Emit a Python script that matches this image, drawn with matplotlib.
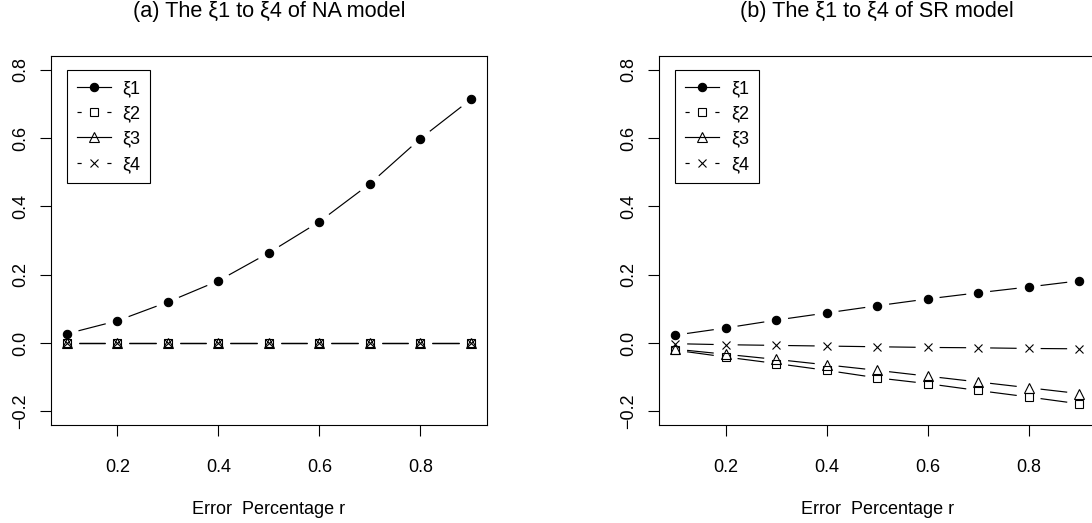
import numpy as np
import matplotlib
matplotlib.use("Agg")
import matplotlib.pyplot as plt
from matplotlib.lines import Line2D

plt.rcParams['font.family'] = ['Liberation Sans', 'DejaVu Sans']
plt.rcParams['lines.scale_dashes'] = False

# error percentage r
r = [0.1, 0.2, 0.3, 0.4, 0.5, 0.6, 0.7, 0.8, 0.9]

# (a) NA model
na_xi1 = [0.027, 0.065, 0.120, 0.182, 0.264, 0.355, 0.466, 0.598, 0.713]
na_xi2 = [0.0, 0.0, 0.0, 0.0, 0.0, 0.0, 0.0, 0.0, 0.0]
na_xi3 = [0.0, 0.0, 0.0, 0.0, 0.0, 0.0, 0.0, 0.0, 0.0]
na_xi4 = [0.0, 0.0, 0.0, 0.0, 0.0, 0.0, 0.0, 0.0, 0.0]

# (b) SR model
sr_xi1 = [0.023, 0.044, 0.067, 0.088, 0.109, 0.129, 0.147, 0.164, 0.182]
sr_xi2 = [-0.021, -0.041, -0.060, -0.080, -0.102, -0.119, -0.139, -0.158, -0.178]
sr_xi3 = [-0.018, -0.033, -0.048, -0.064, -0.080, -0.097, -0.114, -0.131, -0.148]
sr_xi4 = [-0.002, -0.005, -0.007, -0.009, -0.011, -0.013, -0.014, -0.016, -0.017]

labels = ['ξ1', 'ξ2', 'ξ3', 'ξ4']
titles = ['(a) The ξ1 to ξ4 of NA model', '(b) The ξ1 to ξ4 of SR model']

# marker styles like R pch 16, 0, 2, 4
styles = [
    dict(marker='o', ms=6, mfc='black', mec='black', mew=0.8),
    dict(marker='s', ms=6, mfc='none', mec='black', mew=0.8),
    dict(marker='^', ms=7, mfc='none', mec='black', mew=0.8),
    dict(marker='x', ms=6, mfc='none', mec='black', mew=0.8),
]
dashed = [False, True, False, True]

FS = 13
GAP = 12  # pixels of gap around each point (R type = "b")

fig = plt.figure(figsize=(10.92, 5.23), dpi=100)
W, H = 1092, 523
ax_w = 436.3 / W
ax_h = (425 - 56) / H
ax_b = 1 - 425 / H
axes = [fig.add_axes([50.7 / W, ax_b, ax_w, ax_h]),
        fig.add_axes([659 / W, ax_b, ax_w, ax_h])]


def type_b(ax, x, y, style):
    # lines broken around the points, then the points
    pts = ax.transData.transform(np.column_stack([x, y]))
    inv = ax.transData.inverted()
    for p0, p1 in zip(pts[:-1], pts[1:]):
        d = p1 - p0
        L = np.hypot(*d)
        if L <= 2 * GAP:
            continue
        u = d / L
        seg = inv.transform(np.array([p0 + u * GAP, p1 - u * GAP]))
        ax.plot(seg[:, 0], seg[:, 1], color='black', lw=0.85, solid_capstyle='butt')
    ax.plot(x, y, ls='none', clip_on=False, **style)


panels = [[na_xi1, na_xi2, na_xi3, na_xi4], [sr_xi1, sr_xi2, sr_xi3, sr_xi4]]

for ax, series, title in zip(axes, panels, titles):
    ax.set_xlim(0.068, 0.932)
    ax.set_ylim(-0.24, 0.84)
    ax.set_xticks([0.2, 0.4, 0.6, 0.8])
    ax.set_yticks([-0.2, 0.0, 0.2, 0.4, 0.6, 0.8])
    ax.set_xticklabels(['0.2', '0.4', '0.6', '0.8'])
    ax.set_yticklabels(['\u22120.2', '0.0', '0.2', '0.4', '0.6', '0.8'],
                       rotation=90, va='center')
    ax.tick_params(direction='out', length=7.8, width=0.8, labelsize=FS, colors='black')
    ax.tick_params(axis='x', pad=17)
    ax.tick_params(axis='y', pad=8)
    for sp in ax.spines.values():
        sp.set_linewidth(0.8)
    ax.set_xlabel('Error  Percentage r', fontsize=FS, labelpad=18)
    ax.set_title(title, fontsize=15.6, pad=28)

    for ys, st in zip(series, styles):
        type_b(ax, r, ys, st)

    handles = []
    for st, dsh in zip(styles, dashed):
        h = Line2D([0], [0], color='black', lw=0.85, **st)
        if dsh:
            h.set_dashes((3, 18.5))
        handles.append(h)
    leg = ax.legend(handles, labels, loc='upper left', bbox_to_anchor=(0.037, 0.962),
                    fontsize=FS, frameon=True, fancybox=False, edgecolor='black',
                    framealpha=1, borderpad=0.55, labelspacing=0.46, handlelength=1.88,
                    handletextpad=0.65, borderaxespad=0)
    leg.get_frame().set_linewidth(0.8)

fig.savefig('out.png', dpi=100)
